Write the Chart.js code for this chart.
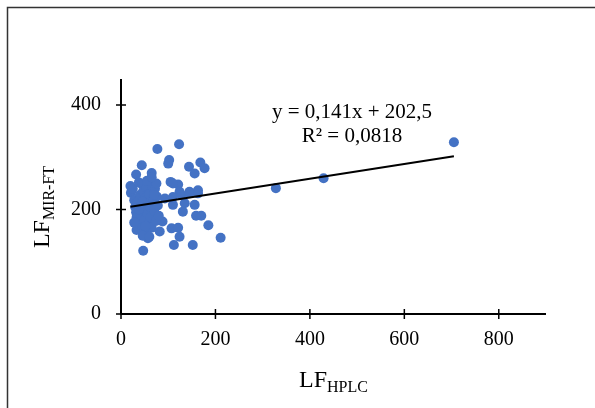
<!DOCTYPE html>
<html><head><meta charset="utf-8">
<script src="https://cdn.jsdelivr.net/npm/chart.js@4"></script>
<style>html,body{margin:0;padding:0;background:#fff}#wrap{width:595px;height:408px;position:relative}</style>
</head><body><div id="wrap"><canvas id="c" width="595" height="408"></canvas></div>
<script>
// ---- data ----
const lfHplc = [77,123,102,100,44,144,168,177,156,32,65,105,121,110,110,135,156,131,159,170,88,185,107,121,124,211,112,152,47,82,57,33,145,163,124,93,128,145,163,110,
  328,429,705,
  20,21,25,28,30,32,33,35,36,38,40,40,42,44,45,47,48,50,50,52,54,55,56,58,60,60,62,63,65,66,68,70,72,74,75,76,78,80,35,45,38,55,65,70,28,46,52,60];
const lfMirFt = [316,325,295,288,285,282,290,279,269,267,270,253,248,250,209,212,209,196,188,188,177,170,164,165,148,146,132,132,121,158,145,161,234,237,234,221,228,231,231,224,
  241,260,329,
  245,232,240,218,205,195,185,175,165,252,228,210,190,170,248,235,200,180,160,222,242,212,192,172,255,230,205,185,165,245,218,198,240,178,250,225,208,188,215,215,200,255,262,228,175,150,168,148];
const xTickValues = [0,200,400,600,800];
const yTickValues = [0,200,400];
const trendSlope = 0.141, trendIntercept = 202.5;
const equationLines = ["y = 0,141x + 202,5", "R\u00B2 = 0,0818"];
const xTitle = ["LF","HPLC"], yTitle = ["LF","MIR-FT"];

const points = lfHplc.map((x,i)=>({x, y: lfMirFt[i]}));
const xMinData = Math.min(...lfHplc), xMaxData = Math.max(...lfHplc);
const trend = [xMinData, xMaxData].map(x=>({x, y: trendSlope*x + trendIntercept}));

const SERIF = '"Liberation Serif","Times New Roman",serif';

const deco = {
  id:'deco',
  beforeDraw(chart){
    const c = chart.ctx;
    c.save(); c.fillStyle='#fff'; c.fillRect(0,0,chart.width,chart.height);
    c.strokeStyle='#333'; c.lineWidth=1.5;
    c.beginPath(); c.moveTo(7.5,chart.height); c.lineTo(7.5,7.5); c.lineTo(chart.width,7.5); c.stroke();
    c.restore();
  },
  afterDraw(chart){
    const c = chart.ctx, xs = chart.scales.x, ys = chart.scales.y;
    const x0 = xs.getPixelForValue(0), y0 = ys.getPixelForValue(0);
    c.save();
    c.strokeStyle='#000'; c.lineWidth=2;
    c.beginPath();
    c.moveTo(xs.left, y0); c.lineTo(xs.right, y0);
    c.moveTo(x0, ys.top); c.lineTo(x0, ys.bottom);
    c.stroke();
    c.lineWidth=1.5; c.beginPath();
    xTickValues.forEach(v=>{const p=xs.getPixelForValue(v); c.moveTo(p,y0-5); c.lineTo(p,y0+5);});
    yTickValues.forEach(v=>{const p=ys.getPixelForValue(v); c.moveTo(x0-5,p); c.lineTo(x0+5,p);});
    c.stroke();
    c.fillStyle='#000';
    // equation
    c.font='21px '+SERIF; c.textAlign='center'; c.textBaseline='alphabetic';
    c.fillText(equationLines[0], 352, 118);
    c.fillText(equationLines[1], 352, 142);
    // x title
    const cx = (xs.left+xs.right)/2;
    c.font='24px '+SERIF; const w1=c.measureText(xTitle[0]).width;
    c.font='16px '+SERIF; const w2=c.measureText(xTitle[1]).width;
    let sx = cx-(w1+w2)/2;
    c.textAlign='left';
    c.font='24px '+SERIF; c.fillText(xTitle[0], sx, 387);
    c.font='16px '+SERIF; c.fillText(xTitle[1], sx+w1, 392);
    // y title
    c.translate(49, 207); c.rotate(-Math.PI/2);
    c.font='24px '+SERIF; const v1=c.measureText(yTitle[0]).width;
    c.font='16px '+SERIF; const v2=c.measureText(yTitle[1]).width;
    sx = -(v1+v2)/2;
    c.font='24px '+SERIF; c.fillText(yTitle[0], sx, 0);
    c.font='16px '+SERIF; c.fillText(yTitle[1], sx+v1, 5);
    c.restore();
  }
};

new Chart(document.getElementById('c'), {
  type:'scatter',
  data:{datasets:[
    {data:points, backgroundColor:'#4472C4', borderWidth:0, pointRadius:5, pointHoverRadius:5, order:2},
    {type:'line', data:trend, borderColor:'#000', borderWidth:2, pointRadius:0, fill:false, order:1}
  ]},
  options:{
    responsive:false, animation:false, events:[],
    layout:{padding:{top:79,right:49,left:0,bottom:0}},
    plugins:{legend:{display:false}, tooltip:{enabled:false}},
    scales:{
      x:{type:'linear', min:0, max:900,
         afterBuildTicks(s){ s.ticks = xTickValues.map(v=>({value:v})); },
         afterFit(s){ s.height = 94; },
         grid:{display:false, drawTicks:false}, border:{display:false},
         ticks:{color:'#000', padding:14, font:{family:SERIF, size:20}, maxRotation:0}},
      y:{type:'linear', min:0, max:450,
         afterBuildTicks(s){ s.ticks = yTickValues.map(v=>({value:v})); },
         afterFit(s){ s.width = 121; },
         grid:{display:false, drawTicks:false}, border:{display:false},
         ticks:{color:'#000', padding:20, font:{family:SERIF, size:20}}}
    }
  },
  plugins:[deco]
});
</script></body></html>
